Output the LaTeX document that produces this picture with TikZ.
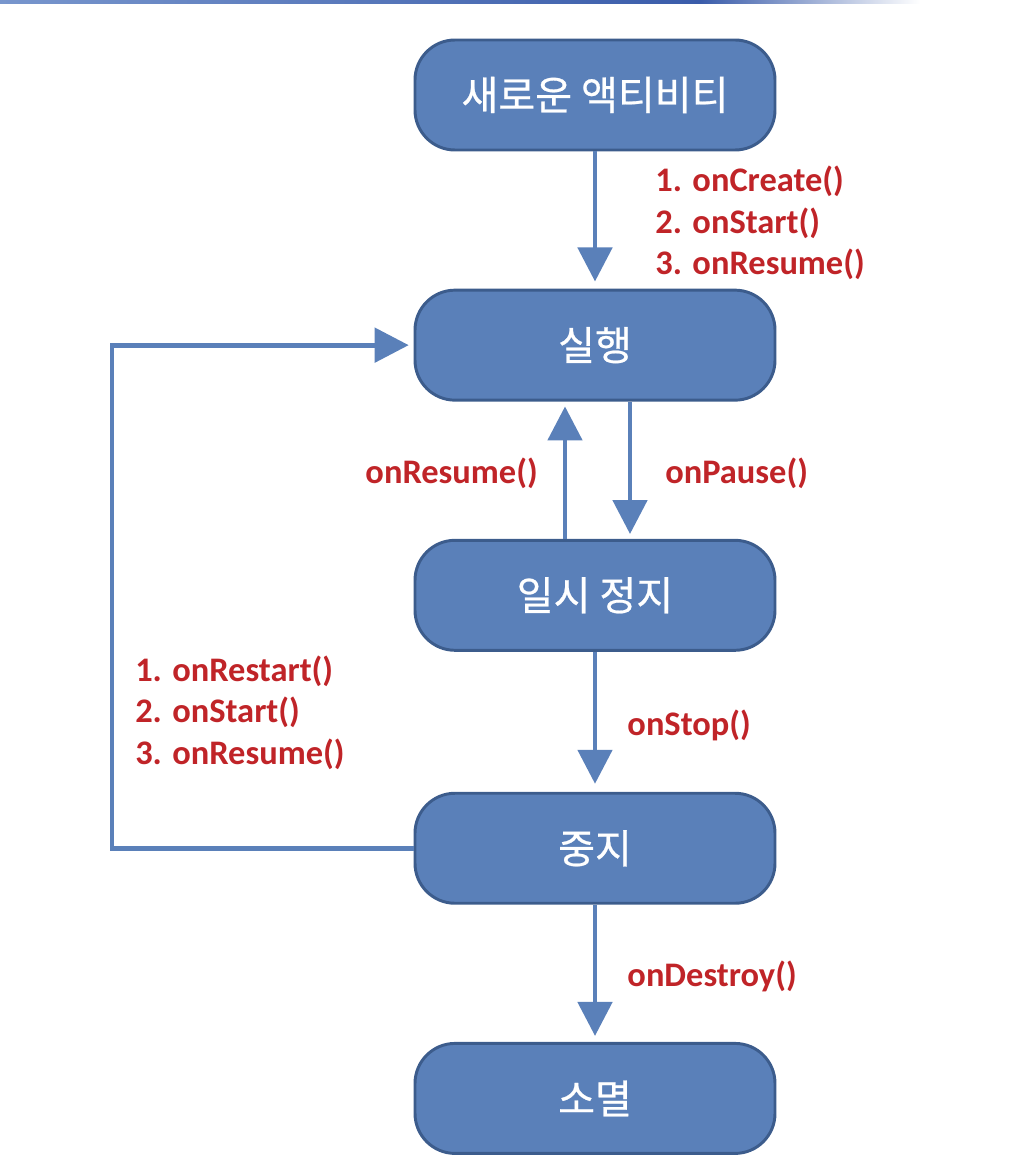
\documentclass[tikz,border=0pt]{standalone}
\usepackage{fontspec}
\setmainfont{Carlito}
\newfontfamily\krfont[FakeBold=0.6]{Noto Sans CJK KR}
\usetikzlibrary{arrows.meta, positioning}
\definecolor{boxblue}{RGB}{90,128,185}
\definecolor{boxedge}{RGB}{60,92,140}
\definecolor{labelred}{RGB}{192,36,40}
\definecolor{barblue}{RGB}{58,92,170}
\definecolor{barlight}{RGB}{120,150,205}

\begin{document}
\begin{tikzpicture}[
                node distance=3.43cm,
                state/.style={rectangle, draw=boxedge, line width=2.1pt, fill=boxblue, rounded corners=1cm, minimum width=9cm, minimum height=2.75cm, align=center, text=white, font=\krfont\fontsize{28.5}{32}\selectfont},
                flow/.style={draw=boxblue, line width=3.5pt, -{Triangle[length=0.85cm, width=0.85cm]}},
                lbl/.style={text=labelred, inner sep=0pt, align=left, yshift=-0.08cm, font=\bfseries\fontsize{24.5}{29.5}\selectfont}
            ]
                \useasboundingbox (0,0) rectangle (25.2,-29.25);
                % top bar
                \shade[left color=barlight, right color=barblue] (0,0) rectangle (17.5,-0.1);
                \shade[left color=barblue, right color=white] (17.5,0) rectangle (23,-0.1);

                \node[state] (new) at (14.875,-2.375) {새로운 액티비티};
                \node[state, below=of new] (run) {실행};
                \node[state, below=of run] (pause) {일시 정지};
                \node[state, below=3.5cm of pause] (stop) {중지};
                \node[state, below=of stop] (gone) {소멸};
                \coordinate (loopx) at (2.8,0);

                \draw[flow, shorten >=0.18cm] (new.south) -- node[lbl, right=1.45cm] (createlbl) {1. onCreate()\\2. onStart()\\3. onResume()} (run.north);
                \draw[flow, shorten >=0.12cm] ([xshift=-0.75cm]pause.north) -- node[lbl, left=0.62cm] (resumelbl) {onResume()} ([xshift=-0.75cm]run.south);
                \draw[flow, shorten >=0.12cm] ([xshift=0.875cm]run.south) -- node[lbl, right=0.82cm] (pauselbl) {onPause()} ([xshift=0.875cm]pause.north);
                \draw[flow, shorten >=0.2cm] (pause.south) -- node[lbl, right=0.75cm] (stoplbl) {onStop()} (stop.north);
                \draw[flow, shorten >=0.15cm] (stop.south) -- node[lbl, right=0.75cm] (destroylbl) {onDestroy()} (gone.north);
                \draw[flow, shorten >=0.12cm] (stop.west) -- (stop.west -| loopx) -- node[lbl, right=0.52cm, pos=0.276] (restartlbl) {1. onRestart()\\2. onStart()\\3. onResume()} (run.west -| loopx) -- (run.west);
            \end{tikzpicture}
\end{document}
